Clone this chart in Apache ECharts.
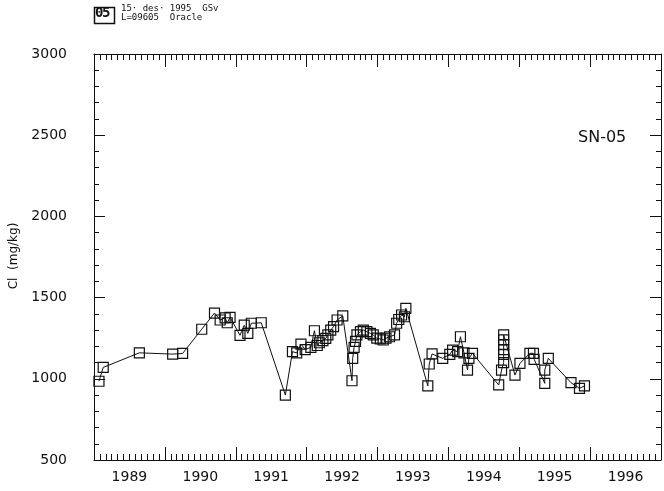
<!DOCTYPE html>
<html>
<head>
<meta charset="utf-8">
<script src="https://cdn.jsdelivr.net/npm/echarts@6/dist/echarts.min.js"></script>
<style>html,body{margin:0;padding:0;background:#fff;}#c{width:664px;height:491px;}</style>
</head>
<body>
<div id="c"></div>
<script>
// Tick labels
var yearLabels = [1989, 1990, 1991, 1992, 1993, 1994, 1995, 1996];
var yTickValues = [500, 1000, 1500, 2000, 2500, 3000];

// Sample dates (decimal years) and chloride values (mg/kg)
var sampleDates = [
  1989.07, 1989.13, 1989.64, 1990.11, 1990.25, 1990.52, 1990.70, 1990.78, 1990.85, 1990.88,
  1990.92, 1991.06, 1991.12, 1991.17, 1991.22, 1991.36, 1991.70, 1991.80, 1991.86, 1991.92,
  1991.98, 1992.06, 1992.11, 1992.15, 1992.18, 1992.23, 1992.27, 1992.30, 1992.34, 1992.38,
  1992.43, 1992.51, 1992.64, 1992.65, 1992.67, 1992.69, 1992.71, 1992.76, 1992.80, 1992.85,
  1992.90, 1992.94, 1992.99, 1993.04, 1993.08, 1993.12, 1993.17, 1993.24, 1993.27, 1993.30,
  1993.34, 1993.38, 1993.40, 1993.71, 1993.73, 1993.77, 1993.92, 1994.02, 1994.06, 1994.13,
  1994.17, 1994.22, 1994.27, 1994.29, 1994.34, 1994.71, 1994.75, 1994.78, 1994.78, 1994.78,
  1994.78, 1994.78, 1994.78, 1994.94, 1995.01, 1995.15, 1995.20, 1995.21, 1995.36, 1995.36,
  1995.41, 1995.73, 1995.85, 1995.92
];
var chloride = [
  985, 1070, 1160, 1152, 1156, 1305, 1405, 1362, 1375, 1345,
  1378, 1268, 1330, 1280, 1342, 1345, 900, 1167, 1160, 1214,
  1180, 1194, 1296, 1205, 1222, 1235, 1249, 1270, 1300, 1321,
  1362, 1387, 988, 1126, 1194, 1230, 1270, 1290, 1300, 1290,
  1280, 1270, 1250, 1245, 1239, 1250, 1259, 1270, 1342, 1365,
  1393, 1382, 1434, 956, 1091, 1153, 1126, 1150, 1177, 1167,
  1259, 1160, 1054, 1126, 1157, 962, 1054, 1100, 1150, 1180,
  1210, 1240, 1270, 1023, 1095, 1157, 1157, 1120, 972, 1054,
  1126, 976, 941, 956
];

var stationLabel = 'SN-05';
var headerLine1 = '15\u00b7 des\u00b7 1995  GSv';
var headerLine2 = 'L=09605  Oracle';
var yAxisTitle = 'Cl  (mg/kg)';

var seriesData = sampleDates.map(function (d, i) { return [d, chloride[i]]; });

var chart = echarts.init(document.getElementById('c'), null, {renderer: 'canvas'});
var axisFont = 'DejaVu Sans';
var ink = '#111';

var tickAxisBase = {
  type: 'value', min: 1989, max: 1997, interval: 1,
  axisLine: {show: true, onZero: false, lineStyle: {color: ink, width: 1}},
  axisTick: {show: true, inside: true, length: 13, lineStyle: {color: ink}},
  minorTick: {show: true, splitNumber: 12, length: 6, lineStyle: {color: ink}},
  axisLabel: {show: false},
  splitLine: {show: false}
};

var option = {
  animation: false,
  backgroundColor: '#fff',
  grid: {left: 94, right: -4, top: 54, bottom: 31, containLabel: false},
  xAxis: [
    Object.assign({}, tickAxisBase, {position: 'bottom'}),
    Object.assign({}, tickAxisBase, {position: 'top'}),
    {
      type: 'value', min: 1989, max: 1997, interval: 0.5, position: 'bottom',
      axisLine: {show: false}, axisTick: {show: false}, splitLine: {show: false},
      axisLabel: {
        show: true, margin: 10, color: ink, fontFamily: axisFont, fontSize: 14,
        formatter: function (v) {
          var y = Math.floor(v);
          return (Math.abs(v - y - 0.5) < 1e-6 && yearLabels.indexOf(y) >= 0) ? String(y) : '';
        }
      }
    }
  ],
  yAxis: [
    {
      type: 'value', min: yTickValues[0], max: yTickValues[yTickValues.length - 1], interval: 500,
      position: 'left',
      axisLine: {show: true, onZero: false, lineStyle: {color: ink}},
      axisTick: {show: true, inside: true, length: 11, lineStyle: {color: ink}},
      minorTick: {show: true, splitNumber: 5, length: 5, lineStyle: {color: ink}},
      axisLabel: {
        show: true, margin: 27, color: ink, fontFamily: axisFont, fontSize: 14,
        formatter: function (v) { return yTickValues.indexOf(v) >= 0 ? String(v) : ''; }
      },
      splitLine: {show: false}
    },
    {
      type: 'value', min: yTickValues[0], max: yTickValues[yTickValues.length - 1], interval: 500,
      position: 'right',
      axisLine: {show: true, onZero: false, lineStyle: {color: ink}},
      axisTick: {show: true, inside: true, length: 11, lineStyle: {color: ink}},
      minorTick: {show: true, splitNumber: 5, length: 5, lineStyle: {color: ink}},
      axisLabel: {show: false},
      splitLine: {show: false}
    }
  ],
  series: [{
    type: 'line',
    xAxisIndex: 0, yAxisIndex: 0,
    data: seriesData,
    symbol: 'rect', symbolSize: 10, showAllSymbol: true,
    lineStyle: {color: ink, width: 1},
    itemStyle: {color: 'rgba(255,255,255,0)', borderColor: ink, borderWidth: 1.2},
    emphasis: {disabled: true}
  }],
  graphic: [
    {type: 'rect', left: 92, top: 5, shape: {width: 20, height: 16}, style: {fill: 'none', stroke: ink, lineWidth: 1.5}},
    {type: 'text', left: 95, top: 6, style: {text: '0', font: 'bold 14px "DejaVu Sans Mono"', fill: ink}},
    {type: 'text', left: 102, top: 6, style: {text: '5', font: 'bold 14px "DejaVu Sans Mono"', fill: ink}},
    {type: 'text', left: 121, top: 4, style: {text: headerLine1, font: '9px "DejaVu Sans Mono"', fill: ink}},
    {type: 'text', left: 121, top: 13, style: {text: headerLine2, font: '9px "DejaVu Sans Mono"', fill: ink}},
    {type: 'text', left: 578, top: 130, style: {text: stationLabel, font: '16px "DejaVu Sans"', fill: ink}},
    {type: 'text', x: 14, y: 256, rotation: Math.PI / 2, style: {text: yAxisTitle, font: '12px "DejaVu Sans"', fill: ink, align: 'center', verticalAlign: 'middle'}}
  ]
};
chart.setOption(option);
</script>
</body>
</html>
